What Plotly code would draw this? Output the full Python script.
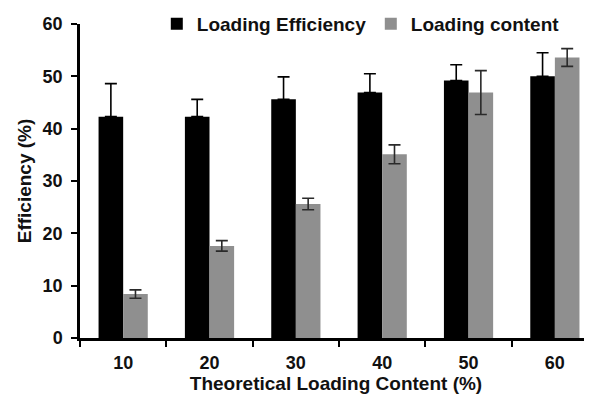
import plotly.graph_objects as go

categories = ["10", "20", "30", "40", "50", "60"]
eff_values = [42.3, 42.3, 45.6, 46.9, 49.2, 50.0]
eff_errors = [6.3, 3.3, 4.3, 3.6, 3.0, 4.5]
cont_values = [8.4, 17.6, 25.6, 35.1, 46.9, 53.6]
cont_errors = [0.8, 1.0, 1.1, 1.8, 4.2, 1.7]
series_names = ["Loading Efficiency", "Loading content"]
y_ticks = [0, 10, 20, 30, 40, 50, 60]

FONT = "Liberation Sans"
TXT = "#111111"

fig = go.Figure()
fig.add_trace(go.Bar(
    x=categories, y=eff_values, name=series_names[0],
    marker=dict(color="#000000", line=dict(width=0)),
    error_y=dict(type="data", symmetric=False, array=eff_errors,
                 arrayminus=[0] * len(eff_errors),
                 color="#000000", thickness=1.6, width=6),
))
fig.add_trace(go.Bar(
    x=categories, y=cont_values, name=series_names[1],
    marker=dict(color="#8f8f8f", line=dict(width=0)),
    error_y=dict(type="data", array=cont_errors, color="#2a2a2a", thickness=1.6, width=6),
))

fig.update_layout(
    width=584, height=394,
    margin=dict(l=72, r=0, t=16, b=64, autoexpand=False),
    paper_bgcolor="white", plot_bgcolor="white",
    barmode="group", bargap=0.43, bargroupgap=0,
    font=dict(family=FONT, size=18, color=TXT),
    showlegend=True,
    legend=dict(
        orientation="h", x=0.15, xanchor="left", y=1.0, yanchor="middle",
        font=dict(family=FONT, size=19, color=TXT, weight="bold"),
        bgcolor="rgba(0,0,0,0)", entrywidth=169, entrywidthmode="pixels",
        itemclick=False,
    ),
    xaxis=dict(
        type="category", range=[-0.5, 5.43], tickson="boundaries",
        showline=True, linecolor="#000000", linewidth=2.5,
        ticks="outside", ticklen=6, tickwidth=2, tickcolor="#000000",
        ticklabelstandoff=7,
        tickfont=dict(family=FONT, size=18, color=TXT, weight="bold"),
        showgrid=False, zeroline=False,
        title=dict(text="Theoretical Loading Content (%)",
                   font=dict(family=FONT, size=19, color=TXT, weight="bold"),
                   standoff=3),
    ),
    yaxis=dict(
        range=[0, 60], tickvals=y_ticks,
        showline=True, linecolor="#000000", linewidth=2.5,
        ticks="outside", ticklen=6, tickwidth=2, tickcolor="#000000",
        ticklabelstandoff=5,
        tickfont=dict(family=FONT, size=18, color=TXT, weight="bold"),
        showgrid=False, zeroline=False,
        title=dict(text="Efficiency (%)",
                   font=dict(family=FONT, size=19, color=TXT, weight="bold"),
                   standoff=6),
    ),
)

fig.write_html("out.html")
